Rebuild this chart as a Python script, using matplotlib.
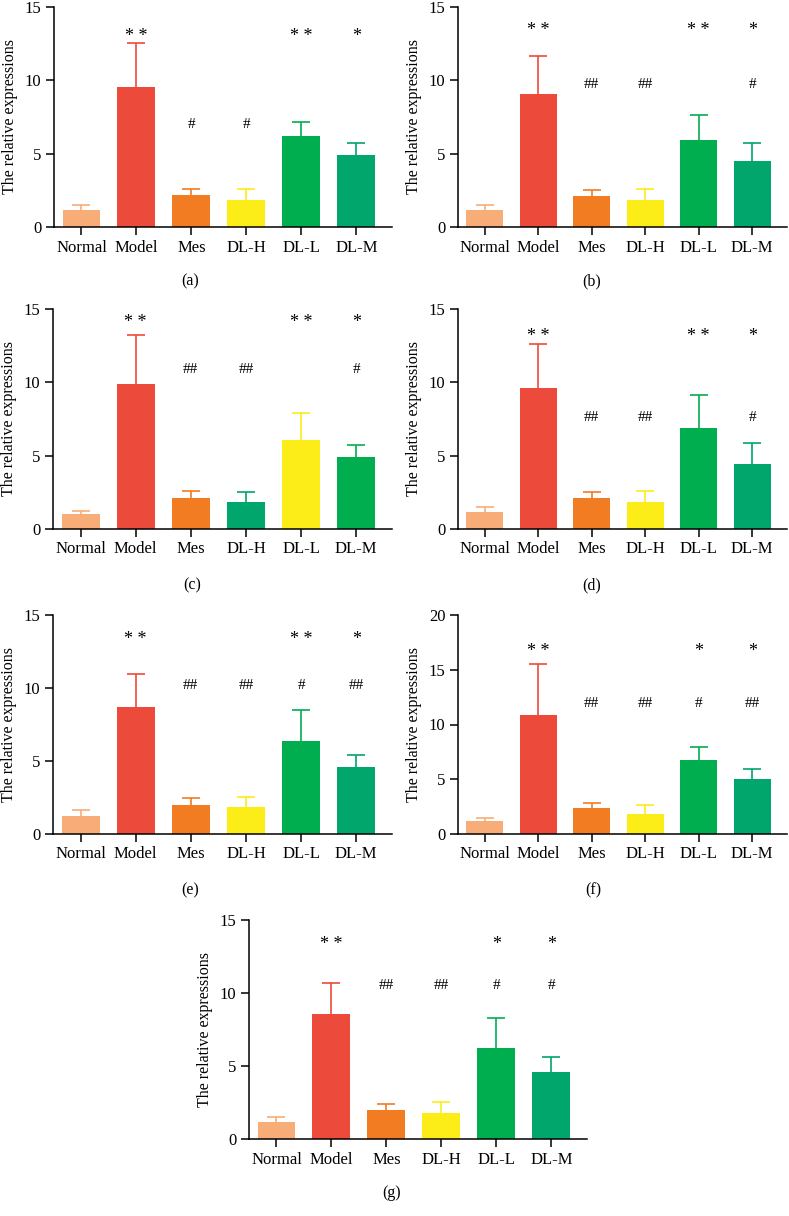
import matplotlib
matplotlib.use("Agg")
import matplotlib.pyplot as plt

plt.rcParams['font.family'] = ['Liberation Serif', 'DejaVu Serif']

categories = ["Normal", "Model", "Mes", "DL-H", "DL-L", "DL-M"]

# bar heights and top of error bars
means_a = [1.14, 9.55, 2.20, 1.82, 6.18, 4.89]
tops_a = [1.48, 12.55, 2.60, 2.57, 7.16, 5.73]
means_b = [1.14, 9.09, 2.11, 1.82, 5.91, 4.48]
tops_b = [1.48, 11.64, 2.55, 2.57, 7.64, 5.73]
means_c = [1.05, 9.92, 2.12, 1.82, 6.06, 4.92]
tops_c = [1.23, 13.20, 2.58, 2.55, 7.93, 5.72]
means_d = [1.14, 9.64, 2.10, 1.85, 6.90, 4.42]
tops_d = [1.50, 12.60, 2.50, 2.58, 9.16, 5.88]
means_e = [1.21, 8.73, 1.98, 1.87, 6.34, 4.56]
tops_e = [1.62, 10.96, 2.44, 2.55, 8.46, 5.43]
means_f = [1.15, 10.88, 2.34, 1.85, 6.78, 5.05]
tops_f = [1.46, 15.53, 2.80, 2.64, 7.99, 5.96]
means_g = [1.14, 8.55, 2.00, 1.78, 6.20, 4.58]
tops_g = [1.48, 10.69, 2.42, 2.51, 8.32, 5.65]

# significance marks per bar: vs Normal (upper row) and vs Model (lower row)
stars_a = ["", "**", "", "", "**", "*"]
hashes_a = ["", "", "#", "#", "", ""]
stars_b = ["", "**", "", "", "**", "*"]
hashes_b = ["", "", "##", "##", "", "#"]
stars_c = ["", "**", "", "", "**", "*"]
hashes_c = ["", "", "##", "##", "", "#"]
stars_d = ["", "**", "", "", "**", "*"]
hashes_d = ["", "", "##", "##", "", "#"]
stars_e = ["", "**", "", "", "**", "*"]
hashes_e = ["", "", "##", "##", "#", "##"]
stars_f = ["", "**", "", "", "*", "*"]
hashes_f = ["", "", "##", "##", "#", "##"]
stars_g = ["", "**", "", "", "*", "*"]
hashes_g = ["", "", "##", "##", "#", "#"]

star_y = [13.0, 13.4, 14.1, 13.1, 13.3, 16.7, 13.3]
hash_y = [7.0, 9.7, 10.85, 7.6, 10.2, 11.9, 10.5]
ymax = [15, 15, 15, 15, 15, 20, 15]
panel_tags = ["(a)", "(b)", "(c)", "(d)", "(e)", "(f)", "(g)"]

base_colors = ["#f8ad78", "#ec4a3b", "#f27c21", "#fcec17", "#00ae4f", "#00a66b"]
colors_c = ["#f8ad78", "#ec4a3b", "#f27c21", "#00a66b", "#fcec17", "#00ae4f"]

W, H = 789, 1216
# axes boxes in pixels: left, right, top, bottom
boxes = [
    (54, 392, 7, 227),
    (458, 787, 7, 227),
    (53, 392, 309, 529),
    (458, 787, 309, 529),
    (53, 392, 615, 834),
    (458, 787, 615, 834),
    (249, 587, 920, 1139),
]
tag_pos = [(190, 281), (592, 281), (192, 585), (592, 585), (190, 890), (593, 890), (392, 1193)]

panels = [
    (means_a, tops_a, stars_a, hashes_a, base_colors),
    (means_b, tops_b, stars_b, hashes_b, base_colors),
    (means_c, tops_c, stars_c, hashes_c, colors_c),
    (means_d, tops_d, stars_d, hashes_d, base_colors),
    (means_e, tops_e, stars_e, hashes_e, base_colors),
    (means_f, tops_f, stars_f, hashes_f, base_colors),
    (means_g, tops_g, stars_g, hashes_g, base_colors),
]

fig = plt.figure(figsize=(W / 100, H / 100), dpi=100)

for i, (means, tops, stars, hashes, cols) in enumerate(panels):
    l, r, t, b = boxes[i]
    ax = fig.add_axes([l / W, 1 - b / H, (r - l) / W, (b - t) / H])
    x = list(range(len(categories)))
    ax.bar(x, means, width=0.69, color=cols, zorder=2)
    # symmetric error bars drawn behind the bars, so only the upper half shows
    for xi, m, tp, c in zip(x, means, tops, cols):
        ax.errorbar(xi, m, yerr=tp - m, fmt="none", ecolor=c,
                    elinewidth=1.2, capsize=6.5, capthick=1.2, zorder=1)
    for xi, s, h in zip(x, stars, hashes):
        if s:
            ax.text(xi, star_y[i], " ".join(s), ha="center", va="center",
                    fontsize=13)
        if h:
            ax.text(xi, hash_y[i], h, ha="center", va="center", fontsize=11)
    ax.set_xlim(-0.5, 5.65)
    ax.set_ylim(0, ymax[i])
    ax.set_yticks(range(0, ymax[i] + 1, 5))
    ax.set_xticks(x)
    ax.set_xticklabels(categories)
    ax.spines["top"].set_visible(False)
    ax.spines["right"].set_visible(False)
    for sp in ("left", "bottom"):
        ax.spines[sp].set_linewidth(1.1)
    ax.tick_params(axis="both", direction="out", length=6, width=1.1,
                   labelsize=12, pad=3)
    ax.set_ylabel("The relative expressions", fontsize=11.5)
    ax.yaxis.set_label_coords(-36 / (r - l), 0.5)
    fig.text(tag_pos[i][0] / W, 1 - tag_pos[i][1] / H, panel_tags[i],
             ha="center", va="center", fontsize=11.5)

fig.savefig("out.png", dpi=100)
